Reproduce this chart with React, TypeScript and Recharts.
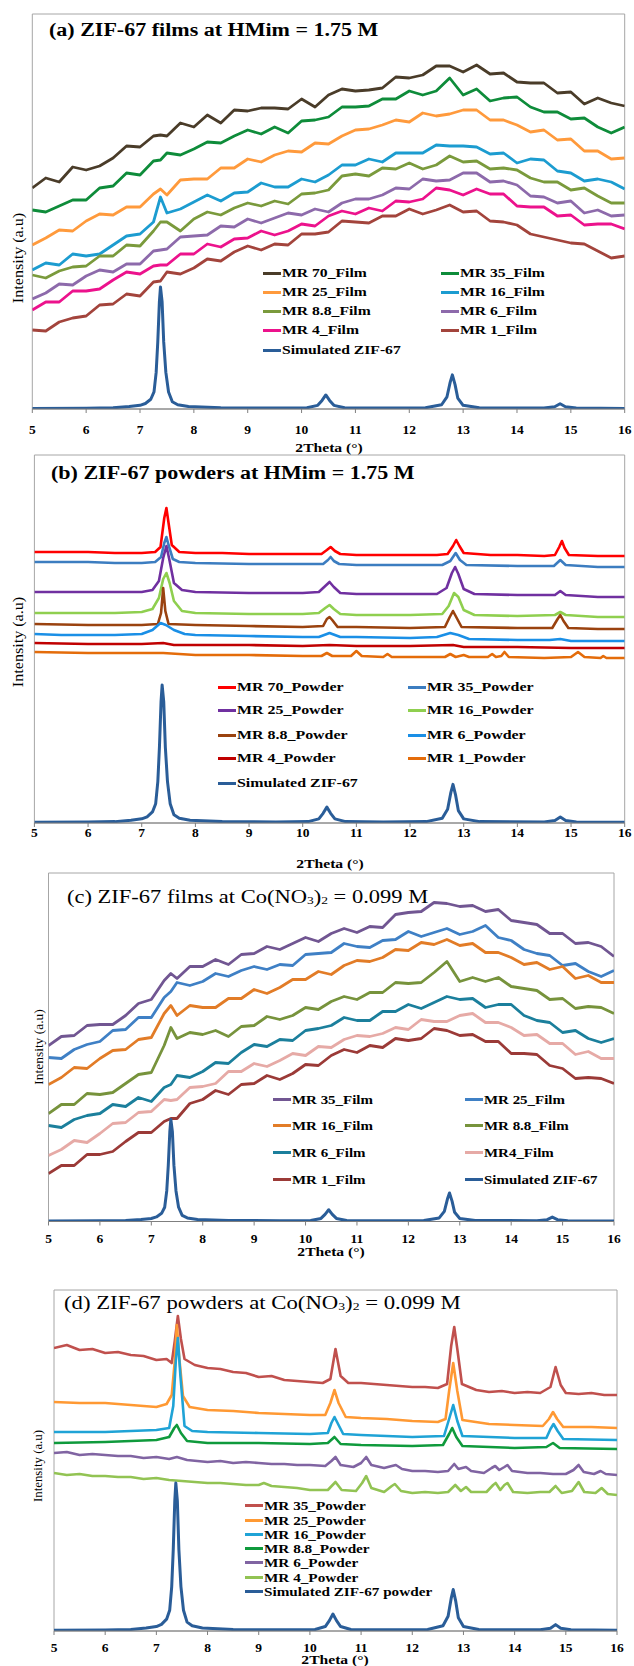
import React from 'react';
import { LineChart, Line, XAxis, YAxis, ReferenceArea } from 'recharts';

const SERIF = "'Liberation Serif', 'Times New Roman', serif";
const SIM_COLOR = '#2a5d98';

const xTicks = [5, 6, 7, 8, 9, 10, 11, 12, 13, 14, 15, 16];

// simulated ZIF-67 pattern, peak normalised to 100
const simX = [5, 6, 6.5, 6.8, 7, 7.1, 7.2, 7.26, 7.3, 7.33, 7.36, 7.38, 7.41, 7.44, 7.48, 7.53, 7.6, 7.7, 7.9, 8.5,
  9.5, 10.1, 10.3, 10.38, 10.45, 10.52, 10.6, 10.8, 11.5, 12.3, 12.6, 12.7, 12.76, 12.8, 12.85, 12.9, 13, 13.3,
  14.5, 14.7, 14.8, 14.9, 15.1, 16];
const simI = [0.5, 0.7, 1, 2, 3, 4.5, 8, 14, 30, 55, 88, 100, 88, 55, 30, 14, 6, 3.5, 2, 1,
  0.8, 1, 3, 7, 11.5, 7, 3, 1, 0.8, 1, 3.5, 10, 22, 28, 20, 9, 3, 1,
  0.8, 1.8, 4.3, 1.8, 0.8, 0.5];

// film scans share one x grid (values are px above the axis)
const filmX = [5, 5.25, 5.5, 5.75, 6, 6.25, 6.5, 6.75, 7, 7.25, 7.38,
  7.5, 7.75, 8, 8.25, 8.5, 8.75, 9, 9.25, 9.5, 9.75, 10,
  10.25, 10.5, 10.75, 11, 11.25, 11.5, 11.75, 12, 12.25, 12.5, 12.75,
  13, 13.25, 13.5, 13.75, 14, 14.25, 14.5, 14.75, 15, 15.25, 15.5, 15.75, 16];

// (a) films, HMim = 1.75 M
const a70 = [221, 231, 227, 242, 239, 243, 251, 263, 262, 273, 274,
  273, 286, 282, 294, 286, 299, 298, 301, 301, 300, 310,
  302, 314, 320, 318, 319, 321, 332, 331, 334, 343, 343,
  337, 344, 335, 336, 327, 326, 326, 316, 317, 305, 311, 306, 303];
const a35 = [199, 197, 203, 209, 209, 221, 223, 236, 234, 248, 249,
  256, 254, 260, 267, 266, 273, 279, 275, 282, 276, 288,
  289, 292, 302, 302, 303, 310, 310, 318, 314, 318, 331,
  314, 320, 308, 311, 312, 302, 297, 297, 290, 291, 282, 276, 282];
const a25 = [164, 171, 179, 178, 188, 195, 194, 202, 202, 215, 220,
  214, 229, 230, 230, 241, 241, 250, 247, 254, 258, 257,
  266, 265, 273, 279, 280, 284, 289, 287, 296, 293, 295,
  299, 299, 289, 289, 284, 277, 279, 269, 270, 258, 258, 250, 251];
const a16 = [139, 146, 144, 155, 153, 155, 164, 173, 175, 187, 212,
  196, 200, 207, 214, 208, 216, 217, 226, 222, 222, 230,
  227, 234, 244, 244, 250, 247, 256, 256, 256, 264, 263,
  263, 262, 255, 256, 246, 250, 249, 238, 236, 228, 230, 227, 220];
const a88 = [134, 131, 138, 142, 143, 153, 153, 164, 163, 178, 187,
  187, 178, 190, 197, 194, 201, 206, 203, 208, 205, 215,
  216, 219, 233, 235, 233, 241, 240, 246, 240, 244, 253,
  247, 248, 240, 241, 239, 231, 227, 227, 219, 221, 213, 206, 206];
const a6 = [110, 116, 125, 124, 133, 139, 137, 145, 145, 158, 159,
  160, 172, 173, 174, 183, 182, 190, 186, 191, 196, 194,
  200, 197, 206, 210, 210, 214, 221, 220, 230, 228, 229,
  236, 236, 227, 228, 224, 213, 212, 206, 208, 196, 199, 193, 194];
const a4 = [99, 107, 107, 118, 118, 120, 129, 137, 135, 143, 144,
  144, 155, 155, 165, 162, 170, 171, 178, 174, 178, 185,
  183, 193, 198, 195, 201, 198, 208, 207, 210, 221, 219,
  214, 220, 215, 215, 203, 202, 202, 193, 194, 184, 185, 185, 180];
const a1 = [79, 78, 87, 91, 93, 104, 105, 115, 113, 127, 128,
  137, 135, 141, 150, 148, 157, 163, 159, 165, 164, 175,
  175, 177, 188, 187, 186, 193, 193, 200, 195, 199, 204,
  197, 198, 188, 187, 184, 175, 172, 169, 166, 165, 158, 151, 153];

// (b) powders, HMim = 1.75 M  [x, px]
const b70 = [[5, 271], [5.5, 271], [6, 271], [6.5, 270], [7, 270], [7.25, 271], [7.35, 276], [7.42, 305], [7.46, 315], [7.5, 300], [7.56, 278], [7.7, 271], [8, 270], [8.5, 270], [9, 269], [9.5, 269], [10, 269], [10.35, 269], [10.45, 273], [10.52, 276], [10.6, 272], [10.7, 269], [11, 268], [11.5, 268], [12, 268], [12.5, 268], [12.7, 269], [12.8, 277], [12.86, 283], [12.92, 277], [13, 270], [13.5, 268], [14, 268], [14.5, 267], [14.7, 268], [14.78, 276], [14.83, 282], [14.88, 275], [14.96, 268], [15.5, 267], [16, 267]];
const b35 = [[5, 261], [5.5, 261], [6, 261], [6.5, 260], [7, 260], [7.25, 261], [7.36, 266], [7.42, 280], [7.46, 286], [7.5, 278], [7.58, 264], [7.7, 261], [8, 260], [9, 259], [10, 259], [10.38, 259], [10.47, 263], [10.52, 266], [10.58, 262], [10.68, 259], [11, 258], [12, 258], [12.6, 258], [12.75, 262], [12.85, 270], [12.93, 263], [13.05, 258], [14, 257], [14.68, 257], [14.8, 263], [14.9, 258], [15.5, 256], [16, 256]];
const b25 = [[5, 231], [6, 231], [6.5, 231], [7, 231], [7.2, 233], [7.32, 242], [7.4, 265], [7.46, 277], [7.52, 262], [7.6, 240], [7.75, 233], [8, 231], [9, 230], [10, 230], [10.3, 231], [10.42, 237], [10.5, 241], [10.58, 236], [10.7, 230], [11, 229], [12, 229], [12.5, 229], [12.68, 235], [12.78, 250], [12.84, 256], [12.9, 249], [13, 234], [13.2, 229], [14, 228], [14.7, 228], [14.8, 232], [14.9, 228], [15.5, 226], [16, 226]];
const b16 = [[5, 210], [6, 210], [6.5, 210], [7, 211], [7.2, 214], [7.32, 225], [7.4, 244], [7.46, 250], [7.52, 240], [7.6, 222], [7.75, 212], [8, 210], [9, 209], [10, 209], [10.3, 210], [10.42, 215], [10.5, 218], [10.58, 214], [10.7, 209], [11, 208], [12, 208], [12.6, 209], [12.72, 217], [12.82, 230], [12.9, 226], [13, 213], [13.2, 208], [14, 207], [14.7, 208], [14.8, 211], [14.9, 208], [15.5, 206], [16, 206]];
const b88 = [[5, 199], [6, 198], [7, 198], [7.3, 199], [7.36, 210], [7.4, 235], [7.44, 212], [7.5, 199], [8, 198], [9, 197], [10, 196], [10.38, 197], [10.45, 204], [10.5, 206], [10.55, 203], [10.65, 196], [11, 196], [12, 195], [12.65, 196], [12.74, 206], [12.8, 212], [12.86, 206], [12.96, 196], [14, 195], [14.65, 195], [14.75, 204], [14.8, 208], [14.86, 202], [14.95, 195], [15.5, 194], [16, 194]];
const b6 = [[5, 189], [5.5, 188], [6, 188], [6.5, 188], [7, 189], [7.2, 193], [7.35, 200], [7.45, 198], [7.6, 193], [7.8, 189], [8, 188], [9, 187], [10, 186], [10.3, 186], [10.5, 190], [10.7, 186], [11, 186], [12, 185], [12.5, 186], [12.75, 190], [12.9, 188], [13.1, 184], [14, 183], [14.6, 183], [14.8, 184], [15, 182], [16, 182]];
const b4 = [[5, 180], [6, 179], [7, 179], [7.4, 180], [7.6, 178], [8, 178], [9, 178], [10, 177], [10.5, 178], [11, 177], [12, 177], [12.8, 178], [13, 176], [14, 176], [15, 175], [16, 175]];
const b1 = [[5, 171], [6, 170], [7, 170], [7.4, 170], [8, 168], [9, 168], [10, 167], [10.35, 167], [10.45, 170], [10.55, 167], [10.9, 167], [11, 172], [11.1, 167], [11.5, 166], [11.58, 169], [11.66, 166], [12, 166], [12.65, 166], [12.75, 169], [12.85, 166], [13, 168], [13.1, 166], [13.45, 166], [13.53, 169], [13.6, 166], [13.7, 167], [13.76, 171], [13.84, 166], [14.5, 165], [15, 166], [15.13, 171], [15.25, 166], [15.55, 165], [15.6, 167], [15.66, 165], [16, 165]];

// (c) films, Co(NO3)2 = 0.099 M
const c35 = [176, 185, 186, 196, 197, 197, 206, 218, 222, 241, 248,
  243, 255, 255, 262, 257, 267, 268, 275, 272, 278, 284,
  280, 288, 293, 289, 295, 294, 307, 309, 310, 319, 318,
  315, 316, 310, 312, 301, 299, 297, 288, 288, 278, 279, 275, 265];
const c25 = [164, 163, 172, 177, 180, 191, 192, 204, 204, 224, 230,
  239, 236, 240, 248, 245, 251, 255, 252, 257, 256, 267,
  268, 269, 278, 275, 274, 281, 282, 290, 285, 289, 293,
  287, 290, 296, 284, 281, 272, 268, 266, 256, 258, 250, 245, 251];
const c16 = [137, 144, 154, 153, 163, 171, 172, 182, 184, 208, 216,
  206, 216, 214, 214, 223, 223, 232, 228, 234, 242, 242,
  250, 247, 256, 261, 260, 264, 272, 271, 279, 277, 282,
  276, 278, 269, 269, 264, 257, 259, 252, 255, 243, 246, 239, 239];
const c88 = [108, 117, 117, 128, 127, 129, 138, 147, 149, 176, 194,
  183, 189, 187, 191, 185, 195, 196, 205, 202, 206, 214,
  212, 220, 225, 222, 229, 229, 239, 238, 239, 249, 260,
  240, 244, 240, 244, 235, 233, 231, 222, 223, 213, 215, 214, 208];
const c6 = [96, 94, 102, 106, 108, 117, 115, 124, 120, 134, 137,
  146, 144, 150, 159, 158, 169, 177, 175, 182, 181, 191,
  193, 196, 204, 201, 201, 210, 210, 217, 213, 219, 225,
  222, 223, 214, 217, 217, 206, 201, 199, 189, 191, 183, 179, 183];
const c4 = [66, 72, 81, 79, 88, 98, 99, 109, 110, 122, 121,
  122, 134, 135, 138, 150, 150, 158, 155, 161, 168, 166,
  175, 174, 182, 186, 185, 188, 194, 192, 202, 200, 200,
  206, 208, 199, 199, 194, 186, 187, 178, 178, 167, 170, 163, 163];
const c1 = [48, 56, 56, 67, 67, 70, 80, 89, 89, 100, 103,
  103, 118, 122, 131, 127, 137, 138, 146, 142, 148, 157,
  156, 166, 172, 169, 176, 174, 183, 181, 183, 193, 191,
  186, 187, 180, 180, 168, 168, 167, 156, 153, 143, 144, 143, 138];

// (d) powders, Co(NO3)2 = 0.099 M  [x, px]
const d35 = [[5, 283], [5.25, 286], [5.5, 281], [5.75, 282], [6, 278], [6.25, 279], [6.5, 276], [6.75, 275], [7, 271], [7.2, 272], [7.3, 268], [7.36, 290], [7.42, 315], [7.48, 292], [7.55, 272], [7.75, 266], [8, 263], [8.25, 262], [8.5, 259], [8.75, 258], [9, 254], [9.25, 255], [9.5, 251], [9.75, 250], [10, 249], [10.25, 248], [10.4, 252], [10.5, 282], [10.6, 255], [10.75, 248], [11, 248], [11.25, 247], [11.5, 246], [11.75, 245], [12, 244], [12.25, 244], [12.5, 243], [12.68, 247], [12.76, 285], [12.82, 304], [12.88, 282], [12.97, 247], [13.25, 241], [13.5, 239], [13.75, 240], [14, 238], [14.25, 239], [14.5, 238], [14.7, 244], [14.8, 264], [14.9, 246], [15, 238], [15.25, 237], [15.5, 238], [15.75, 236], [16, 236]];
const d25 = [[5, 229], [5.5, 228], [6, 228], [6.5, 226], [7, 224], [7.2, 227], [7.3, 236], [7.36, 270], [7.4, 306], [7.45, 272], [7.52, 235], [7.65, 224], [8, 221], [8.5, 220], [9, 218], [9.5, 217], [10, 216], [10.3, 216], [10.4, 228], [10.48, 241], [10.56, 228], [10.7, 214], [11, 213], [11.5, 212], [12, 210], [12.5, 209], [12.65, 212], [12.72, 240], [12.8, 268], [12.88, 240], [12.98, 211], [13.5, 207], [14, 206], [14.55, 205], [14.67, 212], [14.75, 219], [14.83, 212], [14.95, 204], [15.5, 204], [16, 203]];
const d16 = [[5, 199], [6, 199], [7, 201], [7.25, 203], [7.33, 225], [7.38, 270], [7.42, 293], [7.47, 255], [7.55, 205], [7.7, 200], [8, 199], [9, 198], [10, 197], [10.35, 198], [10.42, 208], [10.48, 214], [10.55, 207], [10.65, 197], [11, 196], [12, 194], [12.62, 195], [12.72, 212], [12.8, 226], [12.88, 210], [12.98, 195], [14, 193], [14.62, 193], [14.7, 202], [14.76, 207], [14.84, 200], [14.95, 192], [16, 191]];
const d88 = [[5, 188], [6, 189], [7, 191], [7.25, 194], [7.35, 203], [7.4, 206], [7.48, 198], [7.6, 190], [8, 188], [9, 188], [10, 187], [10.35, 188], [10.48, 194], [10.6, 187], [11, 186], [12, 185], [12.6, 186], [12.72, 197], [12.78, 203], [12.86, 194], [12.98, 185], [14, 183], [14.62, 184], [14.75, 188], [14.88, 183], [16, 182]];
const d6 = [[5, 178], [5.25, 179], [5.5, 176], [5.75, 177], [6, 176], [6.25, 175], [6.5, 175], [6.75, 173], [7, 174], [7.25, 172], [7.4, 174], [7.6, 171], [8, 169], [8.25, 170], [8.5, 168], [8.75, 169], [9, 168], [9.25, 167], [9.5, 167], [9.75, 166], [10, 166], [10.3, 165], [10.42, 170], [10.5, 174], [10.6, 166], [10.85, 164], [11, 168], [11.1, 174], [11.2, 166], [11.45, 163], [11.6, 165], [11.68, 166], [11.8, 162], [12, 160], [12.25, 160], [12.5, 159], [12.7, 160], [12.82, 167], [12.9, 162], [13.05, 164], [13.15, 160], [13.4, 158], [13.55, 163], [13.62, 165], [13.7, 161], [13.8, 164], [13.86, 166], [13.95, 160], [14.25, 158], [14.5, 158], [14.75, 157], [15, 157], [15.15, 161], [15.25, 166], [15.35, 159], [15.55, 157], [15.68, 160], [15.78, 157], [16, 156]];
const d4 = [[5, 158], [5.25, 156], [5.5, 157], [5.75, 155], [6, 155], [6.25, 154], [6.5, 154], [6.75, 152], [7, 153], [7.25, 151], [7.5, 150], [7.75, 149], [8, 148], [8.25, 148], [8.5, 147], [8.75, 146], [9, 146], [9.1, 148], [9.25, 145], [9.5, 144], [9.75, 143], [10, 141], [10.35, 141], [10.5, 149], [10.62, 141], [10.9, 140], [11.02, 148], [11.1, 155], [11.2, 143], [11.45, 139], [11.6, 145], [11.66, 147], [11.78, 140], [12, 138], [12.25, 139], [12.5, 138], [12.7, 139], [12.84, 146], [12.95, 140], [13.05, 144], [13.15, 139], [13.45, 139], [13.58, 146], [13.63, 148], [13.72, 141], [13.8, 146], [13.86, 148], [13.97, 139], [14.25, 138], [14.5, 139], [14.68, 139], [14.8, 145], [14.92, 138], [15.12, 140], [15.25, 149], [15.36, 139], [15.58, 138], [15.7, 143], [15.82, 137], [16, 136]];

type Pt = { x: number; y: number };
type Series = { name: string; color: string; data: Pt[] };

const fromFilm = (vals: number[]): Pt[] => filmX.map((x, i) => ({ x, y: vals[i] }));
const fromPairs = (p: number[][]): Pt[] => p.map(([x, y]) => ({ x, y }));
const simData: Pt[] = simX.map((x, i) => ({ x, y: simI[i] }));

const seriesA: Series[] = [
  { name: 'MR 70_Film', color: '#4a3c29', data: fromFilm(a70) },
  { name: 'MR 35_Film', color: '#0e8c3a', data: fromFilm(a35) },
  { name: 'MR 25_Film', color: '#ff9a3c', data: fromFilm(a25) },
  { name: 'MR 16_Film', color: '#1c9cd0', data: fromFilm(a16) },
  { name: 'MR 8.8_Film', color: '#7a9a3c', data: fromFilm(a88) },
  { name: 'MR 6_Film', color: '#8d6aab', data: fromFilm(a6) },
  { name: 'MR 4_Film', color: '#ec128c', data: fromFilm(a4) },
  { name: 'MR 1_Film', color: '#a3443c', data: fromFilm(a1) },
];
const seriesB: Series[] = [
  { name: 'MR 70_Powder', color: '#ff0000', data: fromPairs(b70) },
  { name: 'MR 35_Powder', color: '#3c7dc0', data: fromPairs(b35) },
  { name: 'MR 25_Powder', color: '#7030a0', data: fromPairs(b25) },
  { name: 'MR 16_Powder', color: '#8fcf4f', data: fromPairs(b16) },
  { name: 'MR 8.8_Powder', color: '#9a420f', data: fromPairs(b88) },
  { name: 'MR 6_Powder', color: '#1a8fe6', data: fromPairs(b6) },
  { name: 'MR 4_Powder', color: '#c00000', data: fromPairs(b4) },
  { name: 'MR 1_Powder', color: '#e46c0a', data: fromPairs(b1) },
];
const seriesC: Series[] = [
  { name: 'MR 35_Film', color: '#715692', data: fromFilm(c35) },
  { name: 'MR 25_Film', color: '#3f80c5', data: fromFilm(c25) },
  { name: 'MR 16_Film', color: '#e27c27', data: fromFilm(c16) },
  { name: 'MR 8.8_Film', color: '#77933c', data: fromFilm(c88) },
  { name: 'MR 6_Film', color: '#1b7f9c', data: fromFilm(c6) },
  { name: 'MR4_Film', color: '#e6aaa6', data: fromFilm(c4) },
  { name: 'MR 1_Film', color: '#9b3a37', data: fromFilm(c1) },
];
const seriesD: Series[] = [
  { name: 'MR 35_Powder', color: '#c0504d', data: fromPairs(d35) },
  { name: 'MR 25_Powder', color: '#ff9933', data: fromPairs(d25) },
  { name: 'MR 16_Powder', color: '#1fa3d6', data: fromPairs(d16) },
  { name: 'MR 8.8_Powder', color: '#0f9a3c', data: fromPairs(d88) },
  { name: 'MR 6_Powder', color: '#8064a2', data: fromPairs(d6) },
  { name: 'MR 4_Powder', color: '#92c353', data: fromPairs(d4) },
];

type PanelProps = {
  top: number; bottom: number; left: number; right: number;
  simMax: number; tickMargin: number; lineWidth: number; series: Series[];
};

function Panel({ top, bottom, left, right, simMax, tickMargin, lineWidth, series }: PanelProps) {
  const chartTop = top - 10;
  const chartH = bottom - chartTop + 31;
  const h = bottom - top;
  return (
    <div style={{ position: 'absolute', left: 0, top: chartTop }}>
      <LineChart width={634} height={chartH} margin={{ top: 10, right: 634 - right, bottom: 1, left }}>
        <XAxis
          type="number" dataKey="x" domain={[5, 16]} ticks={xTicks} interval={0} allowDataOverflow
          height={30} tickSize={4} tickMargin={tickMargin} stroke="#7f7f7f"
          tick={{ fill: '#000', fontFamily: SERIF, fontWeight: 'bold', fontSize: 13.5 }}
        />
        <YAxis yAxisId="main" type="number" domain={[0, h]} hide allowDataOverflow />
        <YAxis yAxisId="sim" type="number" domain={[0, simMax]} hide allowDataOverflow />
        <ReferenceArea yAxisId="main" x1={5} x2={16} y1={0} y2={h} fill="none" stroke="#a6a6a6" />
        {series.map((s) => (
          <Line key={s.name} yAxisId="main" data={s.data} dataKey="y" type="linear" stroke={s.color}
            strokeWidth={lineWidth} dot={false} isAnimationActive={false} strokeLinejoin="round" />
        ))}
        <Line yAxisId="sim" data={simData} dataKey="y" type="linear" stroke={SIM_COLOR}
          strokeWidth={3} dot={false} isAnimationActive={false} strokeLinejoin="round" />
      </LineChart>
    </div>
  );
}

type TxtProps = { x: number; y: number; fs: number; sx?: number; bold?: boolean; children: React.ReactNode };

function Txt({ x, y, fs, sx = 1, bold, children }: TxtProps) {
  return (
    <div style={{
      position: 'absolute', left: x, top: y - fs * 0.51, fontSize: fs, lineHeight: 1, fontFamily: SERIF,
      fontWeight: bold ? 'bold' : 'normal', whiteSpace: 'nowrap', color: '#000',
      transform: `scaleX(${sx})`, transformOrigin: 'left center',
    }}>
      {children}
    </div>
  );
}

function CenterTxt({ x, y, fs, sx = 1, rotate, bold, children }: TxtProps & { rotate?: boolean }) {
  return (
    <div style={{
      position: 'absolute', left: x, top: y, fontSize: fs, lineHeight: 1, fontFamily: SERIF,
      fontWeight: bold ? 'bold' : 'normal', whiteSpace: 'nowrap', color: '#000',
      transform: `translate(-50%, -50%)${rotate ? ' rotate(-90deg)' : ''} scaleX(${sx})`,
    }}>
      {children}
    </div>
  );
}

function Key({ x, y, color, label, fs, sx }: { x: number; y: number; color: string; label: string; fs: number; sx: number }) {
  return (
    <div style={{ position: 'absolute', left: x, top: y - 10, height: 20, display: 'flex', alignItems: 'center', whiteSpace: 'nowrap' }}>
      <span style={{ display: 'inline-block', width: 18, height: 3, background: color, marginRight: 1 }} />
      <span style={{
        display: 'inline-block', fontSize: fs, lineHeight: 1, fontFamily: SERIF, fontWeight: 'bold', color: '#000',
        transform: `scaleX(${sx})`, transformOrigin: 'left center',
      }}>{label}</span>
    </div>
  );
}

const sub = { fontSize: '0.6em', verticalAlign: '-0.1em' } as const;

export default function App() {
  const keysA = [...seriesA.map((s) => ({ label: s.name, color: s.color })), { label: 'Simulated ZIF-67', color: SIM_COLOR }];
  const keysB = [...seriesB.map((s) => ({ label: s.name, color: s.color })), { label: 'Simulated ZIF-67', color: SIM_COLOR }];
  const keysC = [...seriesC.map((s) => ({ label: s.name, color: s.color })), { label: 'Simulated ZIF-67', color: SIM_COLOR }];
  const keysD = [...seriesD.map((s) => ({ label: s.name, color: s.color })), { label: 'Simulated ZIF-67 powder', color: SIM_COLOR }];
  const rowsA = [273, 292, 311, 330, 350];
  const rowsB = [687, 710, 735, 758, 783];
  const rowsC = [1099, 1125, 1152, 1179];
  const rowsD = [1505, 1520, 1534, 1548, 1562, 1577, 1591];

  return (
    <div style={{ position: 'absolute', left: 0, top: 0, width: 634, height: 1666, background: '#fff', overflow: 'hidden' }}>
      <Panel top={14} bottom={409} left={32.3} right={624.7} simMax={323.8} tickMargin={11} lineWidth={2.8} series={seriesA} />
      <Panel top={455} bottom={823} left={34.4} right={624.7} simMax={266.7} tickMargin={0} lineWidth={2.6} series={seriesB} />
      <Panel top={873} bottom={1221.5} left={48.5} right={614} simMax={341.7} tickMargin={8} lineWidth={2.8} series={seriesC} />
      <Panel top={1290} bottom={1631} left={54} right={617} simMax={230.4} tickMargin={7} lineWidth={2.6} series={seriesD} />

      <Txt x={48.5} y={30} fs={18.5} sx={1.19} bold>(a) ZIF-67 films at HMim = 1.75 M</Txt>
      <Txt x={50.5} y={473} fs={18.5} sx={1.19} bold>(b) ZIF-67 powders at HMim = 1.75 M</Txt>
      <Txt x={66.7} y={897} fs={18} sx={1.25}>(c) ZIF-67 films at Co(NO<span style={sub}>3</span>)<span style={sub}>2</span> = 0.099 M</Txt>
      <Txt x={63.9} y={1303} fs={18.5} sx={1.23}>(d) ZIF-67 powders at Co(NO<span style={sub}>3</span>)<span style={sub}>2</span> = 0.099 M</Txt>

      <CenterTxt x={19} y={258} fs={14} sx={1.15} rotate>Intensity (a.u)</CenterTxt>
      <CenterTxt x={19} y={642} fs={14} sx={1.15} rotate>Intensity (a.u)</CenterTxt>
      <CenterTxt x={38.6} y={1047} fs={12} sx={1.12} rotate>Intensity (a.u)</CenterTxt>
      <CenterTxt x={38} y={1466} fs={12} sx={1.07} rotate>Intensity (a.u)</CenterTxt>

      <CenterTxt x={328.5} y={447} fs={13} sx={1.2} bold>2Theta (°)</CenterTxt>
      <CenterTxt x={329.6} y={863} fs={13} sx={1.2} bold>2Theta (°)</CenterTxt>
      <CenterTxt x={330.5} y={1251} fs={13} sx={1.2} bold>2Theta (°)</CenterTxt>
      <CenterTxt x={334.5} y={1659} fs={13} sx={1.2} bold>2Theta (°)</CenterTxt>

      {keysA.map((k, i) => (
        <Key key={'a' + i} x={i % 2 === 0 ? 263 : 441} y={rowsA[Math.floor(i / 2)]} color={k.color} label={k.label} fs={13.5} sx={1.16} />
      ))}
      {keysB.map((k, i) => (
        <Key key={'b' + i} x={i % 2 === 0 ? 218.4 : 408.4} y={rowsB[Math.floor(i / 2)]} color={k.color} label={k.label} fs={13.5} sx={1.18} />
      ))}
      {keysC.map((k, i) => (
        <Key key={'c' + i} x={i % 2 === 0 ? 273 : 465} y={rowsC[Math.floor(i / 2)]} color={k.color} label={k.label} fs={13} sx={1.15} />
      ))}
      {keysD.map((k, i) => (
        <Key key={'d' + i} x={244.6} y={rowsD[i]} color={k.color} label={k.label} fs={13} sx={1.17} />
      ))}
    </div>
  );
}
